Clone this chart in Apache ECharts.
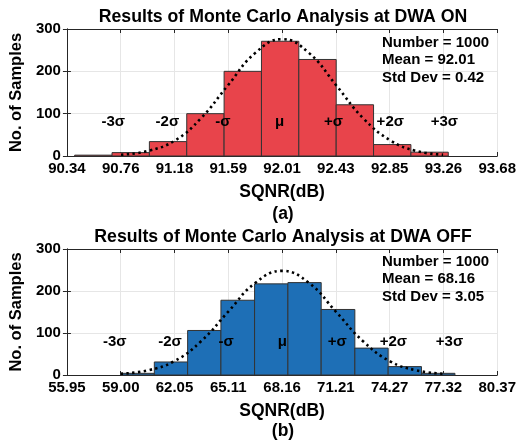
<!DOCTYPE html>
<html>
<head>
<meta charset="utf-8">
<script src="https://cdn.jsdelivr.net/npm/echarts@6/dist/echarts.min.js"></script>
<style>
  html, body { margin: 0; padding: 0; background: #fff; }
  #mc-chart { width: 519px; height: 442px; }
</style>
</head>
<body>
<div id="mc-chart"></div>
<script>
// ---- (a) DWA ON ----
var xTicksA = ['90.34', '90.76', '91.18', '91.59', '92.01', '92.43', '92.85', '93.26', '93.68'];
var xMinA = 90.34, xStepA = 0.4175;
var binEdgesA = [90.40, 90.69, 90.98, 91.27, 91.56, 91.85, 92.14, 92.43, 92.72, 93.01, 93.30];
var countsA = [2, 8, 34, 100, 200, 271, 228, 121, 27, 9];
var fitXA = [90.76, 90.97, 91.18, 91.38, 91.59, 91.80, 92.01, 92.22, 92.43, 92.64, 92.85, 93.05, 93.26];
var fitYA = [3, 12, 37, 89, 167, 243, 276, 243, 167, 89, 37, 12, 3];
var sigmaXA = [90.70, 91.12, 91.55, 91.99, 92.41, 92.85, 93.27];
var statsA = ['Number = 1000', 'Mean = 92.01', 'Std Dev = 0.42'];

// ---- (b) DWA OFF ----
var xTicksB = ['55.95', '59.00', '62.05', '65.11', '68.16', '71.21', '74.27', '77.32', '80.37'];
var xMinB = 55.95, xStepB = 3.0525;
var binEdgesB = [59.00, 60.91, 62.80, 64.69, 66.60, 68.49, 70.38, 72.29, 74.18, 76.07, 77.97];
var countsB = [4, 31, 106, 178, 217, 220, 156, 64, 20, 4];
var fitXB = [59.00, 60.53, 62.05, 63.58, 65.11, 66.63, 68.16, 69.69, 71.21, 72.74, 74.27, 75.79, 77.32];
var fitYB = [3, 11, 33, 81, 151, 219, 248, 219, 151, 81, 33, 11, 3];
var sigmaXB = [58.66, 61.80, 64.99, 68.17, 71.29, 74.48, 77.66];
var statsB = ['Number = 1000', 'Mean = 68.16', 'Std Dev = 3.05'];

var sigmaNames = ['-3σ', '-2σ', '-σ', 'μ', '+σ', '+2σ', '+3σ'];
var sigmaY = 80;
var yTicks = [0, 100, 200, 300];

var FONT = '"Liberation Sans", Arial, Helvetica, sans-serif';
var frameColor = '#262626';

// the x axis runs in tick steps (0..8) so that ticks sit exactly on the printed values
function toStep(v, min, step) { return (v - min) / step; }

function binData(edges, counts, min, step) {
  var out = [];
  for (var i = 0; i < counts.length; i++) {
    out.push([toStep(edges[i], min, step), toStep(edges[i + 1], min, step), counts[i]]);
  }
  return out;
}

function pairData(xs, ys, min, step) {
  return xs.map(function (x, i) { return [toStep(x, min, step), ys[i]]; });
}

function sigmaData(xs, min, step) {
  return xs.map(function (x, i) { return { name: sigmaNames[i], value: [toStep(x, min, step), sigmaY] }; });
}

function mainXAxis(idx, labels) {
  return {
    type: 'value', gridIndex: idx, min: 0, max: 8, interval: 1,
    name: 'SQNR(dB)', nameLocation: 'middle', nameGap: 27,
    nameTextStyle: { fontFamily: FONT, fontSize: 17.5, fontWeight: 'bold', color: '#000' },
    axisLine: { show: true, onZero: false, lineStyle: { color: frameColor, width: 1 } },
    axisTick: { show: true, inside: true, length: 4, lineStyle: { color: frameColor } },
    axisLabel: {
      fontFamily: FONT, fontSize: 15, fontWeight: 'bold', color: '#000', margin: 5,
      formatter: function (v) { return labels[Math.round(v)]; }
    },
    splitLine: { show: true, lineStyle: { color: '#e6e6e6', width: 1 } }
  };
}

function mainYAxis(idx) {
  return {
    type: 'value', gridIndex: idx, min: 0, max: 300, interval: 100,
    name: 'No. of Samples', nameLocation: 'middle', nameGap: 40,
    nameTextStyle: { fontFamily: FONT, fontSize: 16.5, fontWeight: 'bold', color: '#000' },
    axisLine: { show: true, lineStyle: { color: frameColor, width: 1 } },
    axisTick: { show: true, inside: true, length: 4, lineStyle: { color: frameColor } },
    axisLabel: {
      fontFamily: FONT, fontSize: 15, fontWeight: 'bold', color: '#000', margin: 6,
      customValues: yTicks
    },
    splitLine: { show: true, lineStyle: { color: '#e6e6e6', width: 1 } }
  };
}

// top / right axes only close the box, with inward ticks
function boxXAxis(idx) {
  return {
    type: 'value', gridIndex: idx, position: 'top', min: 0, max: 8, interval: 1,
    axisLine: { show: true, onZero: false, lineStyle: { color: frameColor, width: 1 } },
    axisTick: { show: true, inside: true, length: 4, lineStyle: { color: frameColor } },
    axisLabel: { show: false }, splitLine: { show: false }
  };
}

function boxYAxis(idx) {
  return {
    type: 'value', gridIndex: idx, position: 'right', min: 0, max: 300, interval: 100,
    axisLine: { show: true, lineStyle: { color: frameColor, width: 1 } },
    axisTick: { show: true, inside: true, length: 4, lineStyle: { color: frameColor } },
    axisLabel: { show: false }, splitLine: { show: false }
  };
}

function barSeries(idx, data, color) {
  return {
    type: 'custom', xAxisIndex: idx, yAxisIndex: idx, z: 3,
    encode: { x: [0, 1], y: 2 },
    data: data,
    renderItem: function (params, api) {
      var p0 = api.coord([api.value(0), api.value(2)]);
      var p1 = api.coord([api.value(1), 0]);
      return {
        type: 'rect',
        shape: { x: p0[0], y: p0[1], width: p1[0] - p0[0], height: p1[1] - p0[1] },
        style: { fill: color, stroke: '#333333', lineWidth: 1 }
      };
    }
  };
}

function fitSeries(idx, data) {
  return {
    type: 'line', xAxisIndex: idx, yAxisIndex: idx, z: 5,
    data: data, smooth: 0.45, showSymbol: false, silent: true,
    lineStyle: { color: '#000', width: 2.6, type: [2.4, 3.4], cap: 'butt' }
  };
}

function sigmaSeries(idx, data) {
  return {
    type: 'scatter', xAxisIndex: idx, yAxisIndex: idx, z: 6,
    data: data, symbolSize: 1, itemStyle: { color: 'rgba(0,0,0,0)', opacity: 1 }, silent: true,
    label: {
      show: true, position: 'inside', formatter: '{b}',
      fontFamily: FONT, fontSize: 15, fontWeight: 'bold', color: '#000', opacity: 1
    }
  };
}

function statText(lines, left, top) {
  return lines.map(function (t, i) {
    return {
      type: 'text', left: left, top: top + i * 17.5, z: 100,
      style: { text: t, font: 'bold 15px ' + FONT, fill: '#000' }
    };
  });
}

function centerText(t, y, size) {
  return {
    type: 'text', x: 283, y: y, z: 100,
    style: { text: t, font: 'bold ' + size + 'px ' + FONT, fill: '#000', textAlign: 'center', textVerticalAlign: 'middle' }
  };
}

var mcChart = echarts.init(document.getElementById('mc-chart'), null, { renderer: 'canvas' });

var mcOption = {
  animation: false,
  backgroundColor: '#ffffff',
  grid: [
    { left: 65, top: 29, width: 435, height: 127 },
    { left: 65, top: 249, width: 435, height: 126 }
  ],
  xAxis: [mainXAxis(0, xTicksA), mainXAxis(1, xTicksB), boxXAxis(0), boxXAxis(1)],
  yAxis: [mainYAxis(0), mainYAxis(1), boxYAxis(0), boxYAxis(1)],
  series: [
    barSeries(0, binData(binEdgesA, countsA, xMinA, xStepA), '#e8444b'),
    fitSeries(0, pairData(fitXA, fitYA, xMinA, xStepA)),
    sigmaSeries(0, sigmaData(sigmaXA, xMinA, xStepA)),
    barSeries(1, binData(binEdgesB, countsB, xMinB, xStepB), '#1e6fb6'),
    fitSeries(1, pairData(fitXB, fitYB, xMinB, xStepB)),
    sigmaSeries(1, sigmaData(sigmaXB, xMinB, xStepB))
  ],
  graphic: [
    centerText('Results of Monte Carlo Analysis at DWA ON', 17, 17.7),
    centerText('(a)', 214, 17.5),
    centerText('Results of Monte Carlo Analysis at DWA OFF', 237, 17.7),
    centerText('(b)', 431, 17.5)
  ].concat(statText(statsA, 382, 35)).concat(statText(statsB, 382, 254))
};

mcChart.setOption(mcOption);
</script>
</body>
</html>
